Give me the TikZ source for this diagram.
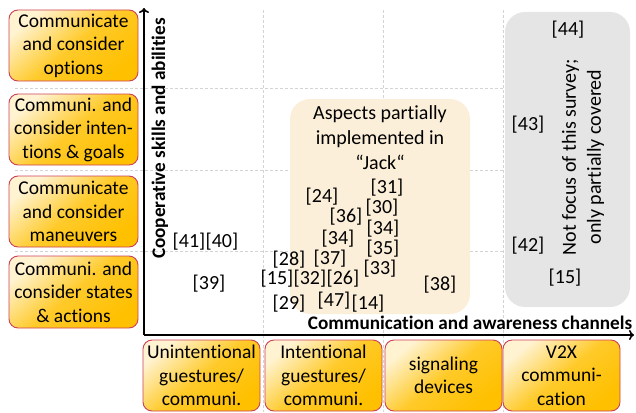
\documentclass[tikz,border=0pt]{standalone}
\usepackage{fontspec}
\setmainfont{Carlito}[Ligatures={NoCommon}]
\usepackage{tikz}
\usetikzlibrary{positioning,arrows.meta}
\definecolor{boxgold}{RGB}{255,192,0}
\definecolor{boxlight}{RGB}{255,243,210}
\definecolor{boxedge}{RGB}{204,64,88}
\definecolor{jackfill}{RGB}{252,239,218}
\definecolor{grayfill}{RGB}{229,229,229}
\definecolor{gridgray}{RGB}{212,212,212}

\begin{document}
\begin{tikzpicture}[x=1pt, y=-1pt,
    skill/.style = {draw=boxedge, line width=0.9pt, rounded corners=9pt,
      top color=boxgold, bottom color=boxlight, middle color=boxgold!80!boxlight,
      shading angle=-140,
      minimum width=129pt, minimum height=71pt, align=center, inner sep=0pt,
      font=\fontsize{19.5}{23.5}\selectfont},
    channel/.style = {skill, minimum width=117pt},
    cite/.style = {inner sep=0pt, font=\fontsize{20}{24}\selectfont},
    region/.style = {rounded corners=20pt, inner sep=0pt},
    gridline/.style = {gridgray, densely dashed, line width=0.6pt},
    axis/.style = {line width=1.6pt, -{To[length=5pt,width=10pt]}},
    axislabel/.style = {inner sep=0pt, font=\bfseries\fontsize{19.2}{22}\selectfont}]
  \useasboundingbox (0,0) rectangle (636,412);
  % Grid
  \foreach \y in {88,170,251} \draw[gridline] (15,\y) -- (630,\y);
  \foreach \x in {263,383,503} \draw[gridline] (\x,10) -- (\x,412);
  % Regions
  \node[region, fill=jackfill, minimum width=180pt, minimum height=215pt] (jack) at (380,206.5) {};
  \node[region, fill=grayfill, minimum width=125pt, minimum height=295pt] (nofocus) at (567.5,159.5) {};
  \node[align=center, font=\fontsize{20}{25}\selectfont] (jacktext) at (380,138) {Aspects partially\\implemented in\\“Jack“};
  \node[rotate=90, align=center, font=\fontsize{20}{25}\selectfont] (nofocustext) at (583,157) {Not focus of this survey;\\only partially covered};
  % Skills
  \node[skill] (options) at (73.5,45.5) {Communicate\\and consider\\options};
  \node[skill] (intentions) at (73.5,129.5) {Communi. and\\consider inten-\\tions \& goals};
  \node[skill] (maneuvers) at (73.5,211.5) {Communicate\\and consider\\maneuvers};
  \node[skill, minimum height=72pt] (states) at (73.5,292) {Communi. and\\consider states\\\& actions};
  % Channels
  \node[channel] (unintentional) at (201.5,375.5) {Unintentional\\guestures/\\communi.};
  \node[channel] (intentional) at (323.5,375.5) {Intentional\\guestures/\\communi.};
  \node[channel] (signaling) at (443.5,375.5) {signaling\\devices};
  \node[channel] (v2x) at (561.5,375.5) {V2X\\communi-\\cation};
  % Axes
  \coordinate (origin) at (144,335);
  \coordinate (ytop) at (144,8);
  \coordinate (xend) at (634,335);
  \draw[axis] (origin) -- (ytop);
  \draw[axis] (origin) -- (xend);
  \node[axislabel, rotate=90] (ylabel) at (160,138.5) {Cooperative skills and abilities};
  \node[axislabel] (xlabel) at (470,323) {Communication and awareness channels};
  % Citations
  \node[cite] (c41) at (189,242) {[41]};
  \node[cite, right=0pt of c41] (c40) {[40]};
  \node[cite] (c39) at (209,284) {[39]};
  \node[cite] (c28) at (289,260) {[28]};
  \node[cite] (c15a) at (277,279) {[15]};
  \node[cite, right=0pt of c15a] (c32) {[32]};
  \node[cite, right=0pt of c32] (c26) {[26]};
  \node[cite] (c37) at (330,259) {[37]};
  \node[cite] (c33) at (380,269) {[33]};
  \node[cite] (c29) at (289,304) {[29]};
  \node[cite] (c47) at (334,301) {[47]};
  \node[cite] (c14) at (368,304) {[14]};
  \node[cite] (c38) at (440,285) {[38]};
  \node[cite] (c24) at (322,197) {[24]};
  \node[cite] (c31) at (387,188) {[31]};
  \node[cite] (c36) at (346,217) {[36]};
  \node[cite] (c30) at (382,208) {[30]};
  \node[cite] (c34a) at (338,239) {[34]};
  \node[cite] (c34b) at (383,229) {[34]};
  \node[cite] (c35) at (383,249) {[35]};
  \node[cite] (c44) at (568,30) {[44]};
  \node[cite] (c43) at (528,125) {[43]};
  \node[cite] (c42) at (528,246) {[42]};
  \node[cite] (c15b) at (565,278) {[15]};
\end{tikzpicture}
\end{document}
